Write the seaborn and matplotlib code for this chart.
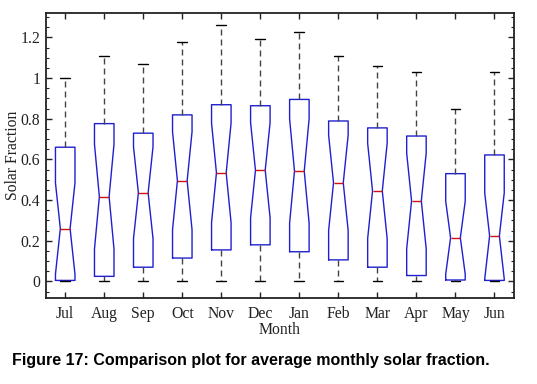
import numpy as np
import pandas as pd
import matplotlib
matplotlib.use("Agg")
import matplotlib.pyplot as plt
import seaborn as sns
from matplotlib.ticker import MultipleLocator, FixedLocator

sns.set_theme(style="ticks")
plt.rcParams['font.family'] = ['Liberation Serif', 'DejaVu Serif']

months = ["Jul", "Aug", "Sep", "Oct", "Nov", "Dec", "Jan", "Feb", "Mar", "Apr", "May", "Jun"]
whisker_low = [0.0, 0.0, 0.0, 0.0, 0.0, 0.0, 0.0, 0.0, 0.0, 0.0, 0.0, 0.0]
q1 = [0.005, 0.025, 0.070, 0.115, 0.155, 0.180, 0.146, 0.106, 0.070, 0.029, 0.007, 0.005]
median = [0.260, 0.417, 0.436, 0.495, 0.534, 0.547, 0.543, 0.485, 0.445, 0.396, 0.215, 0.224]
q3 = [0.660, 0.776, 0.729, 0.819, 0.869, 0.864, 0.895, 0.789, 0.755, 0.715, 0.530, 0.622]
whisker_high = [1.000, 1.107, 1.069, 1.175, 1.261, 1.190, 1.229, 1.107, 1.059, 1.030, 0.848, 1.030]
n_years = 21  # sample count per month (sets notch size)

y_ticks = [0, 0.2, 0.4, 0.6, 0.8, 1.0, 1.2]
y_tick_labels = ["0", "0.2", "0.4", "0.6", "0.8", "1", "1.2"]

# Build a sample per month reproducing the read quartiles / whisker ends
rows = []
half = (n_years - 3) // 2
for m, lo, a, md, b, hi in zip(months, whisker_low, q1, median, q3, whisker_high):
    vals = [lo] + [a] * half + [md] + [b] * half + [hi]
    rows += [(m, v) for v in vals]
df = pd.DataFrame(rows, columns=["Month", "Solar Fraction"])

fig = plt.figure(figsize=(5.37, 3.84), dpi=100)
ax = fig.add_axes([45.7 / 537, 1 - 297.7 / 384, (514 - 45.7) / 537, (297.7 - 13) / 384])

box_col = "#1f1fd0"
sns.boxplot(
    data=df, x="Month", y="Solar Fraction", order=months, ax=ax,
    notch=True, fill=False, width=0.5, whis=1.5, showfliers=False,
    linecolor=box_col, linewidth=1.0,
    boxprops=dict(color=box_col, linewidth=1.0),
    medianprops=dict(color="#d01010", linewidth=1.0),
    whiskerprops=dict(color="#444444", linewidth=1.0, linestyle=(0, (4.3, 2.9))),
    capprops=dict(color="black", linewidth=1.0),
)

ax.set_xlim(-0.5, 11.5)
ax.set_ylim(-0.08, 1.32)
ax.yaxis.set_major_locator(FixedLocator(y_ticks))
ax.set_yticklabels(y_tick_labels)
ax.yaxis.set_minor_locator(MultipleLocator(0.05))

for s in ax.spines.values():
    s.set_visible(True)
    s.set_linewidth(1.3)
    s.set_color("#222222")

ax.tick_params(axis="both", which="major", direction="in", length=4.5, width=1.0,
               top=True, right=True, labelsize=11.3, colors="#222222", labelcolor="#222222")
ax.tick_params(axis="y", which="minor", direction="in", length=2.5, width=0.8,
               left=True, right=True, color="#222222")
ax.tick_params(axis="x", which="major", pad=6)
ax.tick_params(axis="y", which="major", pad=4)

ax.set_xlabel("Month", fontsize=11.3, labelpad=0, color="#222222")
ax.set_ylabel("Solar Fraction", fontsize=11.3, color="#222222", va="center")
ax.yaxis.set_label_coords((13.5 - 45.7) / (514 - 45.7), 0.5)

fig.text(12 / 537, 1 - 360 / 384, "Figure 17: Comparison plot for average monthly solar fraction.",
         family="Liberation Sans", fontweight="bold", fontsize=11.5, ha="left", va="center",
         color="black")

fig.savefig("out.png", dpi=100)
